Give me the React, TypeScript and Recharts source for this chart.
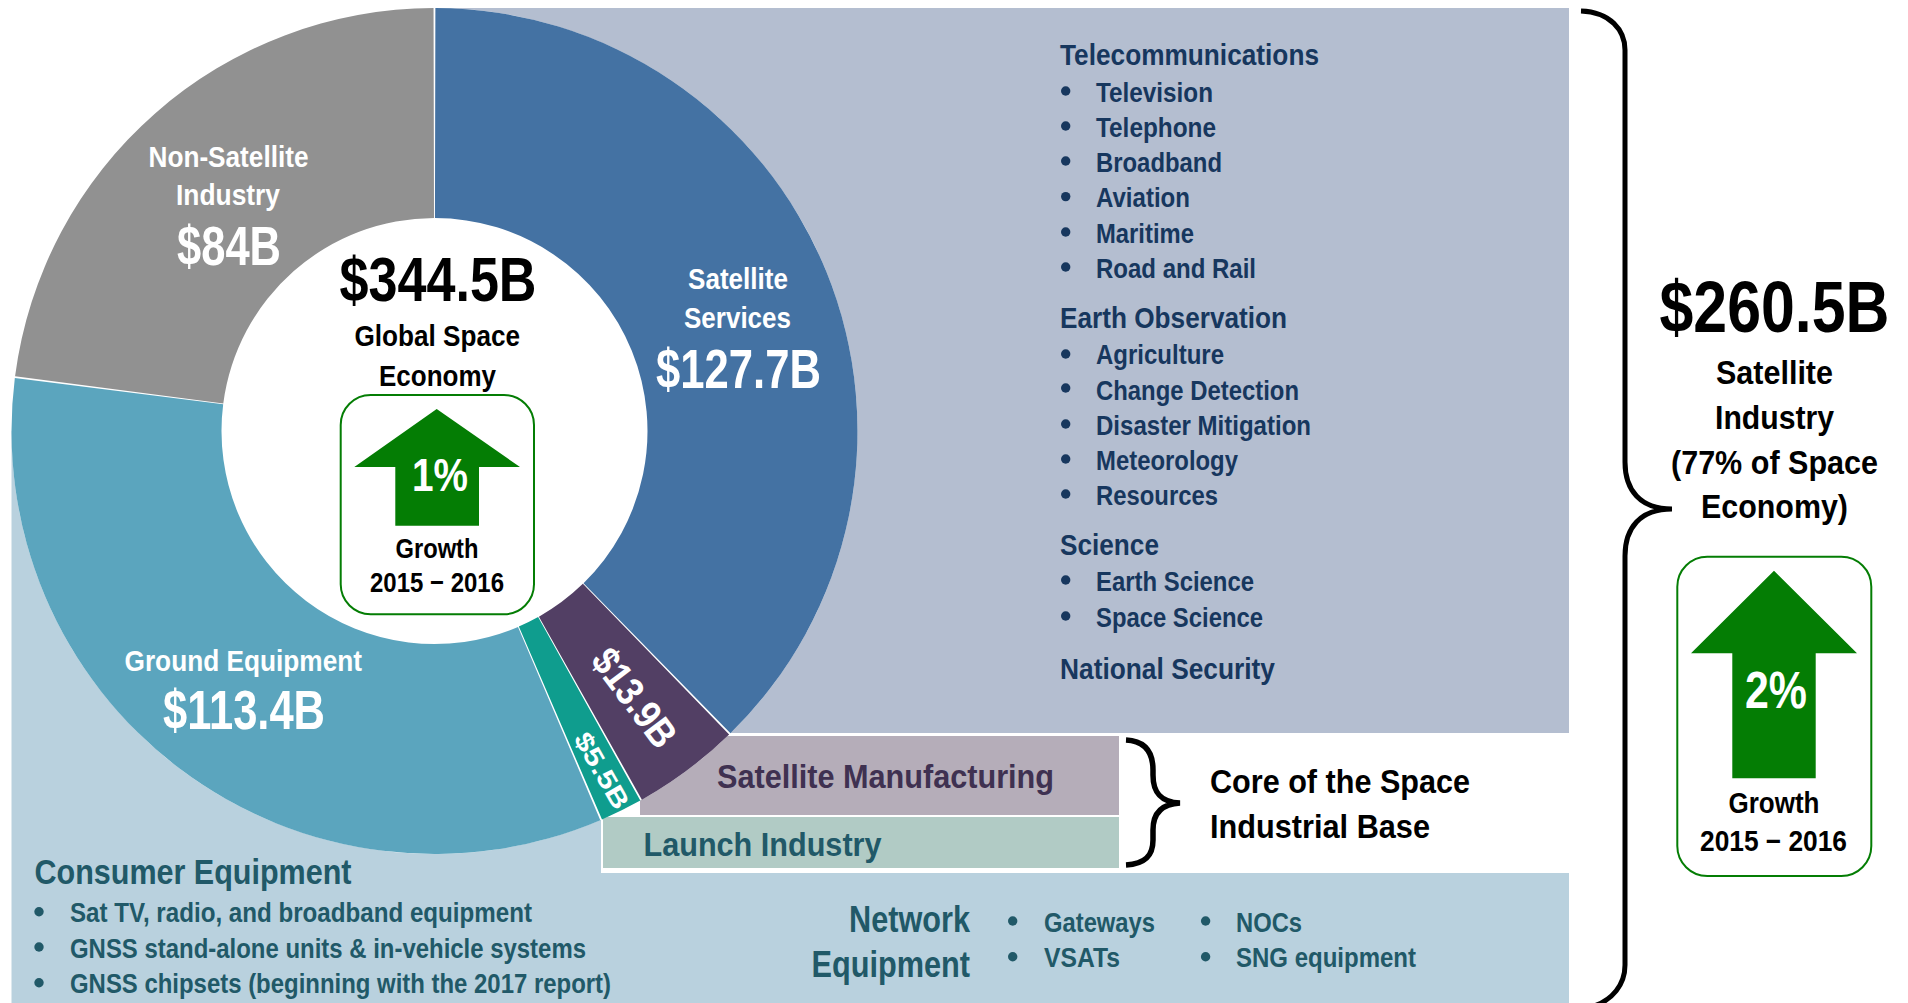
import React from "react";
import { PieChart, Pie, Cell } from "recharts";

// ---------- data ----------
const segmentNames = ["Satellite Services", "Satellite Manufacturing", "Launch Industry", "Ground Equipment", "Non-Satellite Industry"];
// Printed values, as they appear in the slice labels ($B).
const printedValues = ["$127.7B", "$13.9B", "$5.5B", "$113.4B", "$84B"];
// The slice sizes as the reference actually draws them, read from its angles
// (it does not draw them quite in proportion to the printed figures).
const drawnValues = [130.1, 14.2, 5.55, 115.5, 79.15];

const telecomItems = ["Television", "Telephone", "Broadband", "Aviation", "Maritime", "Road and Rail"];
const earthObsItems = ["Agriculture", "Change Detection", "Disaster Mitigation", "Meteorology", "Resources"];
const scienceItems = ["Earth Science", "Space Science"];
const consumerItems = ["Sat TV, radio, and broadband equipment", "GNSS stand-alone units & in-vehicle systems", "GNSS chipsets (beginning with the 2017 report)"];
const networkCol1 = ["Gateways", "VSATs"];
const networkCol2 = ["NOCs", "SNG equipment"];

// ---------- style ----------
const COLORS = ["#4472a3", "#523f64", "#0f9d8e", "#5ba5be", "#919191"];
const NAVY = "#17375e";
const TEAL = "#215968";
const PURPLE = "#3f3151";
const GREEN = "#047d04";
const FONT = "'Liberation Sans', Arial, sans-serif";
const CX = 434.5;
const CY = 431;

type TP = { x: number; y: number; w: number; size: number; fill?: string; children: React.ReactNode; rotate?: number };
function T({ x, y, w, size, fill = "#000", children, rotate }: TP) {
  return (
    <text
      x={x}
      y={y}
      textLength={w}
      lengthAdjust="spacingAndGlyphs"
      fontFamily={FONT}
      fontWeight={700}
      fontSize={size}
      fill={fill}
      transform={rotate ? `rotate(${rotate} ${x + w / 2} ${y})` : undefined}
    >
      {children}
    </text>
  );
}

function Bullets({ x, ys, fill, r = 4.7 }: { x: number; ys: number[]; fill: string; r?: number }) {
  return (
    <>
      {ys.map((y, i) => (
        <circle key={i} cx={x} cy={y} r={r} fill={fill} />
      ))}
    </>
  );
}

function GrowthBox(p: {
  box: number[];
  tip: number[];
  headY: number;
  headL: number;
  headR: number;
  shaftL: number;
  shaftR: number;
  shaftB: number;
}) {
  const { box, tip, headY, headL, headR, shaftL, shaftR, shaftB } = p;
  return (
    <>
      <rect x={box[0]} y={box[1]} width={box[2]} height={box[3]} rx={30} fill="#fff" stroke={GREEN} strokeWidth={2} />
      <polygon
        points={`${tip[0]},${tip[1]} ${headR},${headY} ${shaftR},${headY} ${shaftR},${shaftB} ${shaftL},${shaftB} ${shaftL},${headY} ${headL},${headY}`}
        fill={GREEN}
      />
    </>
  );
}

// Per-slice label text layout, indexed like the segments.
const labelLines: { t: string; x: number; y: number; w: number; size: number }[][] = [
  [
    { t: "Satellite", x: 688, y: 289, w: 100, size: 30 },
    { t: "Services", x: 684, y: 328, w: 107, size: 30 },
    { t: printedValues[0], x: 656, y: 388, w: 165, size: 55 },
  ],
  [{ t: printedValues[1], x: 567, y: 706, w: 113, size: 40 }],
  [{ t: printedValues[2], x: 552, y: 775, w: 84, size: 26 }],
  [
    { t: "Ground Equipment", x: 124.5, y: 671, w: 237.5, size: 30 },
    { t: printedValues[3], x: 163, y: 729, w: 162, size: 55 },
  ],
  [
    { t: "Non-Satellite", x: 148.5, y: 167, w: 160, size: 30 },
    { t: "Industry", x: 176, y: 205, w: 104, size: 30 },
    { t: printedValues[4], x: 177, y: 265, w: 104, size: 55 },
  ],
];
const labelRotation = [0, 53, 60, 0, 0];

function sliceLabel(props: any) {
  const i: number = props.index;
  return (
    <g key={i}>
      {labelLines[i].map((l, k) => (
        <T key={k} x={l.x} y={l.y} w={l.w} size={l.size} fill="#fff" rotate={labelRotation[i]}>
          {l.t}
        </T>
      ))}
    </g>
  );
}

const pieData = segmentNames.map((name, i) => ({ name, value: drawnValues[i] }));

export default function App() {
  const layer: React.CSSProperties = { position: "absolute", left: 0, top: 0 };
  const telecomBase = [101.7, 136.7, 172, 206.7, 242.7, 277.7];
  const telecomW = [117, 120, 126, 94, 98, 160];
  const earthBase = [364, 399.5, 435, 470, 505];
  const earthW = [128, 203, 215, 142, 122];
  const sciBase = [590.7, 626.5];
  const sciW = [158, 167];
  const consBase = [921.7, 958, 992.7];
  const consW = [462, 516, 541];
  return (
    <div style={{ position: "absolute", left: 0, top: 0, width: 1908, height: 1003, overflow: "hidden", background: "#fff" }}>
      <svg width={1908} height={1003} style={layer}>
        <rect x={434.5} y={8} width={1134.5} height={725} fill="#b4bed0" />
        <rect x={11.5} y={431} width={591.5} height={572} fill="#b9d1de" />
        <rect x={600} y={873} width={969} height={130} fill="#b9d1de" />
        <rect x={640} y={736} width={479} height={79} fill="#b5adb9" />
        <rect x={603} y={817} width={516} height={51} fill="#b1cbc5" />
        <rect x={601} y={815} width={2} height={58} fill="#fff" />
        <circle cx={CX} cy={CY} r={423} fill="#fff" />
      </svg>
      <div style={layer}>
        <PieChart width={1908} height={1003} margin={{ top: 0, right: 0, bottom: 0, left: 0 }}>
          <Pie
            data={pieData}
            dataKey="value"
            nameKey="name"
            cx={CX}
            cy={CY}
            innerRadius={213}
            outerRadius={423}
            startAngle={89.88}
            endAngle={-270.12}
            paddingAngle={0.25}
            stroke="none"
            isAnimationActive={false}
            labelLine={false}
            label={sliceLabel}
          >
            {pieData.map((d, i) => (
              <Cell key={d.name} fill={COLORS[i]} />
            ))}
          </Pie>
        </PieChart>
      </div>
      <svg width={1908} height={1003} style={{ ...layer, pointerEvents: "none" }}>
        {/* centre */}
        <T x={339.5} y={301} w={197} size={63}>$344.5B</T>
        <T x={354.5} y={346} w={165.5} size={30}>Global Space</T>
        <T x={379} y={385.7} w={117} size={30}>Economy</T>
        <GrowthBox box={[340.7, 395, 193.3, 219.3]} tip={[436.7, 409]} headY={467} headL={354.3} headR={520} shaftL={395.3} shaftR={479} shaftB={525.7} />
        <T x={412} y={491} w={56} size={47} fill="#fff">1%</T>
        <T x={395.5} y={557.7} w={83} size={28}>Growth</T>
        <T x={370} y={592.2} w={134} size={28}>2015 − 2016</T>

        {/* services list */}
        <T x={1060} y={65} w={259} size={30} fill={NAVY}>Telecommunications</T>
        <Bullets x={1065.7} ys={[91, 126, 161, 196.6, 232, 267]} fill={NAVY} />
        {telecomItems.map((t, i) => (
          <T key={t} x={1096} y={telecomBase[i]} w={telecomW[i]} size={28} fill={NAVY}>{t}</T>
        ))}
        <T x={1060} y={327.7} w={227} size={30} fill={NAVY}>Earth Observation</T>
        <Bullets x={1065.7} ys={[354, 388, 424, 459, 494]} fill={NAVY} />
        {earthObsItems.map((t, i) => (
          <T key={t} x={1096} y={earthBase[i]} w={earthW[i]} size={28} fill={NAVY}>{t}</T>
        ))}
        <T x={1060} y={555} w={99} size={30} fill={NAVY}>Science</T>
        <Bullets x={1065.7} ys={[580, 616]} fill={NAVY} />
        {scienceItems.map((t, i) => (
          <T key={t} x={1096} y={sciBase[i]} w={sciW[i]} size={28} fill={NAVY}>{t}</T>
        ))}
        <T x={1060} y={679} w={215} size={30} fill={NAVY}>National Security</T>

        {/* industrial base boxes */}
        <T x={717} y={788} w={337} size={34} fill={PURPLE}>{segmentNames[1]}</T>
        <T x={643.5} y={856} w={238} size={34} fill={TEAL}>{segmentNames[2]}</T>
        <path d="M1126 740 C1145 741 1153 752 1153 770 L1153 775 C1153 792 1160 802 1180 803 C1160 804 1153 815 1153 830 L1153 840 C1153 856 1145 864 1126 865" fill="none" stroke="#000" strokeWidth={5.5} />
        <T x={1210} y={793} w={260} size={34}>Core of the Space</T>
        <T x={1210} y={838} w={220} size={34}>Industrial Base</T>

        {/* consumer equipment */}
        <T x={34.5} y={884} w={317} size={35} fill={TEAL}>Consumer Equipment</T>
        <Bullets x={39} ys={[911.7, 947, 982.7]} fill={TEAL} />
        {consumerItems.map((t, i) => (
          <T key={t} x={70} y={consBase[i]} w={consW[i]} size={28} fill={TEAL}>{t}</T>
        ))}

        {/* network equipment */}
        <T x={849} y={932} w={121} size={36} fill={TEAL}>Network</T>
        <T x={811.5} y={977} w={158.5} size={36} fill={TEAL}>Equipment</T>
        <Bullets x={1012.7} ys={[921, 956.7]} fill={TEAL} />
        <Bullets x={1205.6} ys={[921, 956.7]} fill={TEAL} />
        {networkCol1.map((t, i) => (
          <T key={t} x={1044} y={[932, 967][i]} w={[111, 76][i]} size={28} fill={TEAL}>{t}</T>
        ))}
        {networkCol2.map((t, i) => (
          <T key={t} x={1236} y={[932, 967][i]} w={[66, 180][i]} size={28} fill={TEAL}>{t}</T>
        ))}

        {/* satellite industry */}
        <path d="M1581 11 C1610 12 1625 30 1625 50 L1625 462 C1625 490 1640 509 1672 509 C1640 509 1625 528 1625 556 L1625 965 C1625 985 1612 1000 1594 1006" fill="none" stroke="#000" strokeWidth={5} />
        <T x={1659.5} y={332} w={230} size={73}>$260.5B</T>
        <T x={1716} y={384} w={117} size={34}>Satellite</T>
        <T x={1715} y={428.6} w={119} size={34}>Industry</T>
        <T x={1671} y={474} w={207} size={34}>(77% of Space</T>
        <T x={1701} y={518} w={147} size={34}>Economy)</T>
        <GrowthBox box={[1677.3, 556.7, 194, 319.3]} tip={[1774, 570.7]} headY={653.3} headL={1691} headR={1857} shaftL={1732.3} shaftR={1815.7} shaftB={778.3} />
        <T x={1745} y={707.7} w={62} size={51} fill="#fff">2%</T>
        <T x={1728.5} y={813} w={91} size={29}>Growth</T>
        <T x={1700} y={851} w={147} size={29}>2015 − 2016</T>
      </svg>
    </div>
  );
}
